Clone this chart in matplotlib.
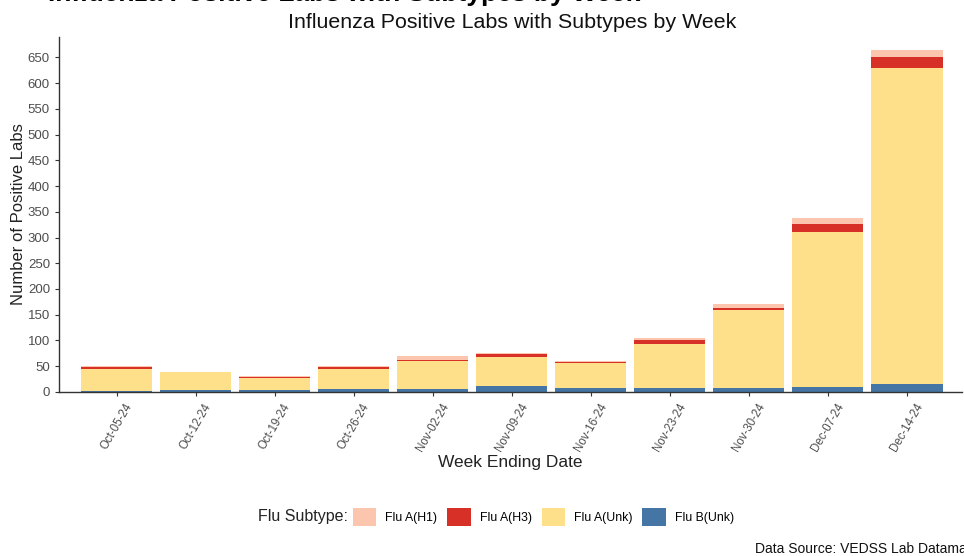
import numpy as np
import matplotlib.pyplot as plt
from matplotlib.patches import Patch

plt.rcParams['font.family'] = ['Liberation Sans', 'DejaVu Sans']

# Weekly influenza positive labs by subtype
weeks = ["Oct-05-24", "Oct-12-24", "Oct-19-24", "Oct-26-24", "Nov-02-24", "Nov-09-24",
         "Nov-16-24", "Nov-23-24", "Nov-30-24", "Dec-07-24", "Dec-14-24"]
flu_b_unk = [2, 3, 3, 5, 5, 11, 7, 7, 7, 9, 15]
flu_a_unk = [43, 35, 25, 39, 55, 57, 50, 87, 153, 301, 615]
flu_a_h3 = [3, 0, 2, 4, 3, 6, 1, 6, 3, 16, 20]
flu_a_h1 = [2, 1, 1, 2, 6, 2, 3, 5, 7, 11, 15]

subtypes = ["Flu A(H1)", "Flu A(H3)", "Flu A(Unk)", "Flu B(Unk)"]
colors = {"Flu A(H1)": "#FCC5AD", "Flu A(H3)": "#D73027",
          "Flu A(Unk)": "#FEE08B", "Flu B(Unk)": "#4575A5"}

fig = plt.figure(figsize=(9.64, 5.56), dpi=100)
ax = fig.add_axes([0.0612, 0.295, 0.937, 0.639])

x = np.arange(len(weeks))
bottom = np.zeros(len(weeks))
# stack from bottom: B(Unk), A(Unk), A(H3), A(H1)
for name, vals in [("Flu B(Unk)", flu_b_unk), ("Flu A(Unk)", flu_a_unk),
                   ("Flu A(H3)", flu_a_h3), ("Flu A(H1)", flu_a_h1)]:
    ax.bar(x, vals, bottom=bottom, width=0.9, color=colors[name], linewidth=0)
    bottom += np.array(vals)

ax.set_xlim(-0.73, len(weeks) - 0.3)
ax.set_ylim(0, 690)
ax.set_yticks(np.arange(0, 651, 50))
ax.set_xticks(x)
ax.set_xticklabels(weeks, rotation=60, ha='center', va='top')
ax.tick_params(axis='both', colors='#333333', labelcolor='#4D4D4D', labelsize=9.5,
               length=3, width=0.8)
ax.tick_params(axis='x', labelsize=8.3)
for s in ['top', 'right']:
    ax.spines[s].set_visible(False)
for s in ['left', 'bottom']:
    ax.spines[s].set_color('#333333')
    ax.spines[s].set_linewidth(1.0)

ax.set_ylabel("Number of Positive Labs", fontsize=12, color='#222222')
ax.yaxis.set_label_coords(-0.037, 0.5)
ax.set_xlabel("Week Ending Date", fontsize=12.5, color='#222222', labelpad=1)

# cropped heading at very top
fig.text(0.05, 1 - 1 / 556, "Influenza Positive Labs with Subtypes by Week",
         fontsize=19, fontweight='bold', ha='left', va='baseline', color='black')
fig.text(0.531, 1 - 22 / 556, "Influenza Positive Labs with Subtypes by Week",
         fontsize=15.4, ha='center', va='center', color='#111111')

# legend
handles = [Patch(facecolor=colors[n], edgecolor='none') for n in subtypes]
fig.text(258 / 964, 1 - 517 / 556, "Flu Subtype:", fontsize=11.5, ha='left', va='center',
         color='#222222')
fig.legend(handles, subtypes, ncol=4, loc='center left',
           bbox_to_anchor=(353 / 964, 1 - 517 / 556),
           frameon=False, fontsize=8.8, handlelength=1.9, handleheight=1.9,
           handletextpad=0.74, columnspacing=0.82, borderaxespad=0, borderpad=0)

fig.text(0.783, 1 - 549 / 556, "Data Source: VEDSS Lab Datamart", fontsize=10,
         ha='left', va='center', color='#111111')

fig.savefig("out.png", dpi=100)
